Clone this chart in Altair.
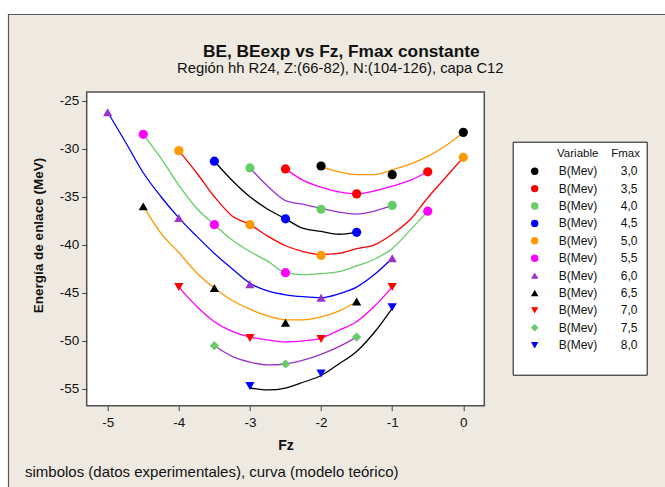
import altair as alt
import pandas as pd

FONT = "Liberation Sans"
BG = "#EEEAE1"

# Fmax series labels (legend), marker colours / shapes, curve colours
FMAX = ["3,0", "3,5", "4,0", "4,5", "5,0", "5,5", "6,0", "6,5", "7,0", "7,5", "8,0"]
POINT_COLORS = ["#000000", "#FF0000", "#66CC66", "#0000FF", "#FF9900", "#FF00FF",
                "#9933CC", "#000000", "#FF0000", "#66CC66", "#0000FF"]
POINT_SHAPES = ["circle", "circle", "circle", "circle", "circle", "circle",
                "triangle-up", "triangle-up", "triangle-down", "diamond", "triangle-down"]
CURVE_COLORS = ["#FF9900", "#FF00FF", "#9933CC", "#000000", "#FF0000", "#66CC66",
                "#0000FF", "#FF9900", "#FF00FF", "#9933CC", "#000000"]

# experimental values (symbols)
exp_fz = [
    [-2, -1, 0],
    [-2.5, -1.5, -0.5],
    [-3, -2, -1],
    [-3.5, -2.5, -1.5],
    [-4, -3, -2, 0],
    [-4.5, -3.5, -2.5, -0.5],
    [-5, -4, -3, -2, -1],
    [-4.5, -3.5, -2.5, -1.5],
    [-4, -3, -2, -1],
    [-3.5, -2.5, -1.5],
    [-3, -2, -1],
]
exp_be = [
    [-31.8, -32.7, -28.3],
    [-32.1, -34.7, -32.4],
    [-32.0, -36.3, -35.9],
    [-31.3, -37.3, -38.7],
    [-30.2, -37.9, -41.1, -30.9],
    [-28.5, -37.9, -42.9, -36.5],
    [-26.2, -37.2, -44.1, -45.5, -41.4],
    [-36.0, -44.5, -48.1, -45.9],
    [-44.4, -49.7, -49.8, -44.4],
    [-50.5, -52.4, -49.6],
    [-54.7, -53.4, -46.5],
]

# theoretical model (curves)
curve_fz = [
    [-2, -1.75, -1.5, -1.25, -1, -0.75, -0.5, -0.25, 0],
    [-2.5, -2.25, -2, -1.75, -1.5, -1.25, -1, -0.75, -0.5],
    [-3, -2.75, -2.5, -2.25, -2, -1.75, -1.5, -1.25, -1],
    [-3.5, -3.25, -3, -2.75, -2.5, -2.25, -2, -1.75, -1.5],
    [-4, -3.75, -3.5, -3.25, -3, -2.75, -2.5, -2.25, -2, -1.75, -1.5, -1.25, -1, -0.75, -0.5, -0.25, 0],
    [-4.5, -4.25, -4, -3.75, -3.5, -3.25, -3, -2.75, -2.5, -2.25, -2, -1.75, -1.5, -1.25, -1, -0.75, -0.5],
    [-5, -4.75, -4.5, -4.25, -4, -3.75, -3.5, -3.25, -3, -2.75, -2.5, -2.25, -2, -1.75, -1.5, -1.25, -1],
    [-4.5, -4.25, -4, -3.75, -3.5, -3.25, -3, -2.75, -2.5, -2.25, -2, -1.75, -1.5],
    [-4, -3.75, -3.5, -3.25, -3, -2.75, -2.5, -2.25, -2, -1.75, -1.5, -1.25, -1],
    [-3.5, -3.25, -3, -2.75, -2.5, -2.25, -2, -1.75, -1.5],
    [-3, -2.75, -2.5, -2.25, -2, -1.75, -1.5, -1.25, -1],
]
curve_be = [
    [-31.9, -32.4, -32.7, -32.7, -32.2, -31.6, -30.8, -29.7, -28.3],
    [-32.1, -33.3, -34.0, -34.5, -34.7, -34.4, -33.9, -33.3, -32.4],
    [-32.0, -33.9, -35.4, -35.8, -36.2, -36.6, -36.8, -36.5, -35.9],
    [-31.3, -33.3, -35.0, -36.3, -37.3, -38.3, -38.6, -38.9, -38.7],
    [-30.2, -32.5, -35.0, -37.0, -37.9, -39.1, -40.1, -40.7, -41.0, -40.9, -40.4, -40.0, -38.9, -37.4, -35.1, -33.0, -30.9],
    [-28.5, -31.0, -33.8, -36.2, -37.9, -39.5, -40.7, -41.7, -42.9, -43.1, -43.0, -42.8, -42.2, -41.5, -40.4, -38.5, -36.5],
    [-26.2, -29.3, -32.5, -35.0, -37.2, -39.1, -40.9, -42.5, -44.0, -44.8, -45.2, -45.4, -45.5, -45.1, -44.4, -43.1, -41.4],
    [-36.0, -38.8, -40.8, -42.9, -44.5, -45.8, -46.7, -47.4, -47.8, -47.8, -47.5, -46.9, -45.9],
    [-44.4, -46.4, -48.0, -49.0, -49.6, -49.9, -50.1, -50.0, -49.7, -48.9, -48.0, -46.4, -44.4],
    [-50.5, -51.6, -52.2, -52.5, -52.4, -52.0, -51.4, -50.6, -49.6],
    [-54.9, -55.1, -54.9, -54.3, -53.6, -52.4, -51.1, -49.1, -46.6],
]

X_TICKS = [-5, -4, -3, -2, -1, 0]
Y_TICKS = [-55, -50, -45, -40, -35, -30, -25]

TITLE = "BE, BEexp vs Fz, Fmax constante"
SUBTITLE = "Región hh R24, Z:(66-82), N:(104-126), capa C12"
FOOTER = "simbolos (datos experimentales), curva (modelo teórico)"

exp_rows = []
curve_rows = []
for i, lab in enumerate(FMAX):
    for fz, be in zip(exp_fz[i], exp_be[i]):
        exp_rows.append({"Fmax": lab, "Fz": fz, "BE": be})
    for fz, be in zip(curve_fz[i], curve_be[i]):
        curve_rows.append({"serie": lab, "Fz": fz, "BE": be, "ccolor": CURVE_COLORS[i]})
exp_df = pd.DataFrame(exp_rows)
curve_df = pd.DataFrame(curve_rows)

W, H = 397.6, 313.7
PL, PT = 86.7, 92.0

xscale = alt.Scale(domain=[-5.295, 0.295], nice=False, zero=False)
yscale = alt.Scale(domain=[-56.74, -24.1], nice=False, zero=False)

xaxis = alt.Axis(values=X_TICKS, labelExpr="toString(datum.value)", title="Fz",
                 grid=False, domain=False, tickSize=5, tickColor="#444",
                 labelFontSize=13.5, labelColor="#111", labelPadding=5, labelFont=FONT,
                 titleFont=FONT, titleFontSize=14, titleFontWeight="bold", titleColor="#111",
                 titleX=W / 2, titleY=39.3, titleBaseline="middle", titleAlign="center")
yaxis = alt.Axis(values=Y_TICKS, labelExpr="toString(datum.value)",
                 title="Energía de enlace (MeV)",
                 grid=False, domain=False, tickSize=5, tickColor="#444",
                 labelFontSize=13.5, labelColor="#111", labelPadding=3, labelFont=FONT,
                 titleFont=FONT, titleFontSize=13.5, titleFontWeight="bold", titleColor="#111",
                 titleX=-48.4, titleY=143, titleBaseline="middle", titleAlign="center",
                 titleAngle=270)

NB = "\u00a0"
ZW = "\u200b"
LEG_DOMAIN = FMAX + [" "]
leg_colors = POINT_COLORS + ["rgba(0,0,0,0)"]
leg_shapes = POINT_SHAPES + ["circle"]

legend = alt.Legend(
    orient="none", legendX=426, legendY=49.7,
    title=ZW + NB * 12 + "Variable" + NB * 4 + "Fmax",
    titleFont=FONT, titleFontSize=11.5, titleFontWeight="normal", titleColor="#111",
    titlePadding=6,
    labelExpr="datum.label == ' ' ? '' : 'B(Mev)' + '" + NB * 7 + "' + datum.label",
    labelFont=FONT, labelFontSize=12, labelColor="#111", labelOffset=18,
    symbolSize=55, symbolOffset=10, rowPadding=5.4,
    fillColor="white", strokeColor="#111", padding=6,
)

lines = alt.Chart(curve_df).mark_line(interpolate="monotone", strokeWidth=1.3).encode(
    x=alt.X("Fz:Q", scale=xscale, axis=xaxis),
    y=alt.Y("BE:Q", scale=yscale, axis=yaxis),
    color=alt.Color("ccolor:N", scale=None),
    detail="serie:N",
)

points = alt.Chart(exp_df).mark_point(filled=True, size=85, opacity=1).encode(
    x=alt.X("Fz:Q", scale=xscale),
    y=alt.Y("BE:Q", scale=yscale),
    color=alt.Color("Fmax:N", scale=alt.Scale(domain=LEG_DOMAIN, range=leg_colors), legend=legend),
    shape=alt.Shape("Fmax:N", scale=alt.Scale(domain=LEG_DOMAIN, range=leg_shapes), legend=legend),
)

one = alt.Data(values=[{"k": 1}])
top_strip = alt.Chart(one).mark_rect(color="white").encode(
    x=alt.value(-PL - 5), x2=alt.value(W + 200), y=alt.value(-PT - 5), y2=alt.value(14 - PT))
left_strip = alt.Chart(one).mark_rect(color="white").encode(
    x=alt.value(-PL - 5), x2=alt.value(8 - PL), y=alt.value(-PT - 5), y2=alt.value(H + 100))
panel = alt.Chart(one).mark_rect(fillOpacity=0, stroke="#555", strokeWidth=1.2).encode(
    x=alt.value(8.5 - PL), x2=alt.value(W + 250), y=alt.value(14.5 - PT), y2=alt.value(H + 200))

title_txt = alt.Chart(one).mark_text(align="center", baseline="alphabetic", font=FONT,
                                     fontSize=17.3, fontWeight="bold", color="#111").encode(
    x=alt.value(341.3 - PL), y=alt.value(56.7 - PT), text=alt.value(TITLE))
subtitle_txt = alt.Chart(one).mark_text(align="center", baseline="alphabetic", font=FONT,
                                        fontSize=14.8, color="#111").encode(
    x=alt.value(340.3 - PL), y=alt.value(72.8 - PT), text=alt.value(SUBTITLE))
footer = alt.Chart(one).mark_text(align="left", baseline="middle", font=FONT,
                                  fontSize=15, color="#111").encode(
    x=alt.value(25 - PL), y=alt.value(471.7 - PT), text=alt.value(FOOTER))

chart = alt.layer(top_strip, left_strip, panel, title_txt, subtitle_txt, footer,
                  lines, points).properties(
    width=W, height=H,
    autosize=alt.AutoSizeParams(type="none"),
    padding={"left": PL, "top": PT, "right": 665 - PL - W, "bottom": 487 - PT - H},
    background=BG,
).configure_view(fill="white", stroke="#505050", strokeWidth=1.5)

chart.save("out.html", embed_options={"renderer": "svg", "actions": False})
